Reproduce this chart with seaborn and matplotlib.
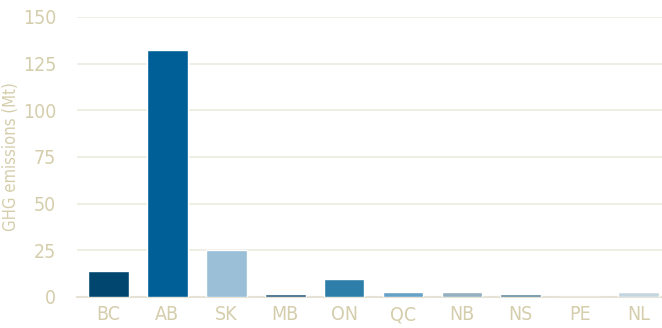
import matplotlib
matplotlib.use('Agg')
import matplotlib.pyplot as plt
import seaborn as sns
import pandas as pd

provinces = ['BC', 'AB', 'SK', 'MB', 'ON', 'QC', 'NB', 'NS', 'PE', 'NL']
emissions = [13.9, 132.3, 25.4, 1.6, 9.6, 2.8, 2.8, 1.6, 0.05, 2.8]
bar_colors = ['#00466f', '#005f96', '#9abfd6', '#2e5d7f', '#2e7eaa',
              '#65a1c5', '#93afc0', '#5f8aa0', '#c6d6e1', '#c6d6e1']

text_color = '#d5ceac'
grid_color = '#ecebe0'

sns.set_style('white')
plt.rcParams['font.family'] = ['DejaVu Sans']
plt.rcParams['font.stretch'] = 'condensed'

df = pd.DataFrame({'province': provinces, 'ghg': emissions})

fig = plt.figure(figsize=(6.62, 3.28), dpi=100)
ax = fig.add_axes([77 / 662, 31 / 328, 585 / 662, 280 / 328])

sns.barplot(data=df, x='province', y='ghg', hue='province', palette=bar_colors,
            legend=False, width=0.69, saturation=1, ax=ax, zorder=3)

ax.set_ylim(0, 150)
ax.set_xlim(-0.535, 9.397)
ax.set_yticks([0, 25, 50, 75, 100, 125, 150])
ax.yaxis.grid(True, color=grid_color, linewidth=1.2)
ax.set_axisbelow(True)
for s in ['top', 'right', 'left']:
    ax.spines[s].set_visible(False)
ax.spines['bottom'].set_color('#e6e3d6')
ax.spines['bottom'].set_linewidth(1.5)
ax.spines['bottom'].set_zorder(1)

ax.tick_params(axis='both', length=0, colors=text_color, labelsize=14)
ax.tick_params(axis='y', pad=15)
ax.tick_params(axis='x', pad=6)
ax.set_xlabel('')
ax.set_ylabel('GHG emissions (Mt)', color=text_color, fontsize=12, labelpad=0)
ax.yaxis.set_label_coords(-0.097, 0.5)

fig.savefig('out.png', dpi=100)
